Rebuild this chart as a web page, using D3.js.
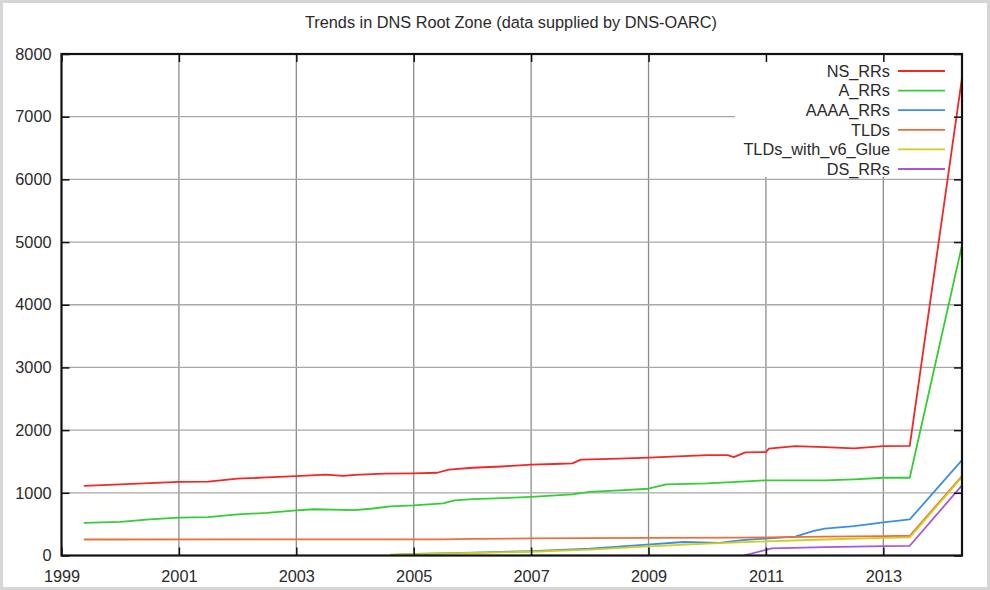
<!DOCTYPE html>
<html><head><meta charset="utf-8">
<script src="https://cdn.jsdelivr.net/npm/d3@7"></script>
<style>
html,body{margin:0;padding:0;background:#fff;}
svg{display:block;font-family:"Liberation Sans",Arial,sans-serif;}
</style></head>
<body>
<svg id="c" width="990" height="590"></svg>
<script>
const titleText = "Trends in DNS Root Zone (data supplied by DNS-OARC)";
const xTicks = [1999, 2001, 2003, 2005, 2007, 2009, 2011, 2013];
const yTicks = [0, 1000, 2000, 3000, 4000, 5000, 6000, 7000, 8000];
const seriesNames = ["NS_RRs", "A_RRs", "AAAA_RRs", "TLDs", "TLDs_with_v6_Glue", "DS_RRs"];
const seriesColors = ["#f02828", "#35cc35", "#3a90e0", "#e8703a", "#d2cc1c", "#a855e0"];

const nsYears = [1999.38, 2000, 2000.5, 2001, 2001.5, 2002, 2002.5, 2003, 2003.5, 2003.8, 2004, 2004.5, 2005, 2005.4, 2005.6, 2006, 2006.5, 2007, 2007.4, 2007.7, 2007.85, 2008.5, 2009, 2009.5, 2010, 2010.35, 2010.45, 2010.65, 2011, 2011.05, 2011.5, 2012, 2012.5, 2013, 2013.45, 2014.34];
const nsValues = [1110, 1135, 1155, 1175, 1180, 1225, 1245, 1265, 1290, 1270, 1285, 1305, 1310, 1320, 1370, 1400, 1420, 1450, 1460, 1470, 1530, 1545, 1560, 1580, 1600, 1600, 1570, 1645, 1650, 1705, 1745, 1730, 1710, 1745, 1750, 7620];

const aYears = [1999.38, 2000, 2000.5, 2001, 2001.5, 2002, 2002.5, 2003, 2003.3, 2004, 2004.3, 2004.6, 2005, 2005.5, 2005.7, 2006, 2006.5, 2007, 2007.7, 2008, 2008.5, 2009, 2009.3, 2010, 2010.5, 2011, 2012, 2012.5, 2013, 2013.45, 2014.34];
const aValues = [520, 537, 575, 605, 613, 655, 680, 720, 738, 725, 750, 785, 800, 830, 880, 900, 915, 935, 975, 1015, 1040, 1065, 1135, 1150, 1175, 1200, 1200, 1215, 1240, 1240, 4950];

const aaaaYears = [2004.6, 2005, 2006, 2007, 2008, 2008.85, 2009.6, 2010.2, 2010.6, 2011, 2011.5, 2011.8, 2012, 2012.5, 2013, 2013.45, 2014.34];
const aaaaValues = [10, 25, 45, 70, 110, 165, 215, 200, 245, 270, 300, 390, 430, 470, 530, 575, 1520];

const tldYears = [1999.38, 2005.5, 2006, 2007, 2009, 2010.5, 2011, 2012, 2013, 2013.45, 2014.34];
const tldValues = [255, 258, 265, 272, 280, 285, 290, 300, 310, 315, 1265];

const glueYears = [2004.6, 2005, 2006, 2007, 2008, 2009, 2010, 2011, 2012, 2013, 2013.45, 2014.34];
const glueValues = [12, 22, 40, 60, 95, 145, 190, 225, 255, 280, 290, 1250];

const dsYears = [2010.62, 2011.0, 2011.1, 2012, 2013, 2013.45, 2014.34];
const dsValues = [0, 90, 115, 135, 150, 155, 1120];

const seriesYears = [nsYears, aYears, aaaaYears, tldYears, glueYears, dsYears];
const seriesValues = [nsValues, aValues, aaaaValues, tldValues, glueValues, dsValues];

const svg = d3.select("#c");
const W = 990, H = 590;
const L = 61.5, R = 962, T = 54, B = 555.5;
const FS = 16.3;

svg.append("rect").attr("x", 1.5).attr("y", 1.5).attr("width", W - 3).attr("height", H - 3)
  .attr("fill", "#fff").attr("stroke", "#d6d6d6").attr("stroke-width", 3);

const x = d3.scaleLinear().domain([1999, 2014.34]).range([L, R]);
const y = d3.scaleLinear().domain([0, 8000]).range([B, T]);

// grid
const grid = svg.append("g");
grid.selectAll("line.v").data(xTicks.slice(1)).join("line")
  .attr("x1", d => x(d)).attr("x2", d => x(d)).attr("y1", T).attr("y2", B)
  .attr("stroke", "#8c8c8c").attr("stroke-width", 1.3);
grid.selectAll("line.h").data(yTicks.slice(1, -1)).join("line")
  .attr("x1", L).attr("x2", R).attr("y1", d => y(d)).attr("y2", d => y(d))
  .attr("stroke", "#a8a8a8").attr("stroke-width", 1.3);

// legend background (hides grid)
const legX0 = 735, legY0 = T, legY1 = 177;
svg.append("rect").attr("x", legX0).attr("y", legY0).attr("width", R - legX0).attr("height", legY1 - legY0)
  .attr("fill", "#fff");

// series
const line = d3.line().x(d => x(d[0])).y(d => y(d[1]));
svg.append("clipPath").attr("id", "pc").append("rect")
  .attr("x", L).attr("y", T).attr("width", R - L).attr("height", B - T);
const lines = svg.append("g").attr("clip-path", "url(#pc)");
seriesNames.forEach((name, i) => {
  const pts = seriesYears[i].map((yr, k) => [yr, seriesValues[i][k]]);
  lines.append("path").datum(pts).attr("d", line)
    .attr("fill", "none").attr("stroke", seriesColors[i]).attr("stroke-width", 1.8)
    .attr("stroke-linejoin", "round");
});

// legend
const leg = svg.append("g");
seriesNames.forEach((name, i) => {
  const yy = 71 + i * 19.6;
  leg.append("text").attr("x", 890).attr("y", yy).attr("dy", "0.35em")
    .attr("text-anchor", "end").attr("font-size", FS).attr("fill", "#2a2a2a").text(name);
  leg.append("line").attr("x1", 898).attr("x2", 945).attr("y1", yy).attr("y2", yy)
    .attr("stroke", seriesColors[i]).attr("stroke-width", 1.8);
});

// axes with inward ticks on all sides
const tl = 8;
const axG = svg.append("g");
const axL = d3.axisLeft(y).tickValues(yTicks).tickSize(-tl).tickPadding(10).tickFormat(d3.format("d"));
const axR = d3.axisRight(y).tickValues(yTicks).tickSize(-tl).tickFormat("");
const axB = d3.axisBottom(x).tickValues(xTicks).tickSize(-tl).tickPadding(15).tickFormat(d3.format("d"));
const axT = d3.axisTop(x).tickValues(xTicks).tickSize(-tl).tickFormat("");
[[axL, `translate(${L},0)`], [axR, `translate(${R},0)`], [axB, `translate(0,${B})`], [axT, `translate(0,${T})`]]
  .forEach(([a, tr]) => {
    const g = axG.append("g").attr("transform", tr).call(a);
    g.select(".domain").remove();
    g.selectAll(".tick line").attr("stroke", "#111").attr("stroke-width", 1.5);
    g.selectAll(".tick text").attr("font-size", FS).attr("fill", "#2a2a2a")
      .attr("font-family", "Liberation Sans, Arial, sans-serif");
  });
svg.append("rect").attr("x", L).attr("y", T).attr("width", R - L).attr("height", B - T)
  .attr("fill", "none").attr("stroke", "#111").attr("stroke-width", 2.2);

// title
svg.append("text").attr("x", 511).attr("y", 22).attr("dy", "0.35em").attr("text-anchor", "middle")
  .attr("font-size", FS).attr("fill", "#2a2a2a").text(titleText);
</script>
</body></html>
